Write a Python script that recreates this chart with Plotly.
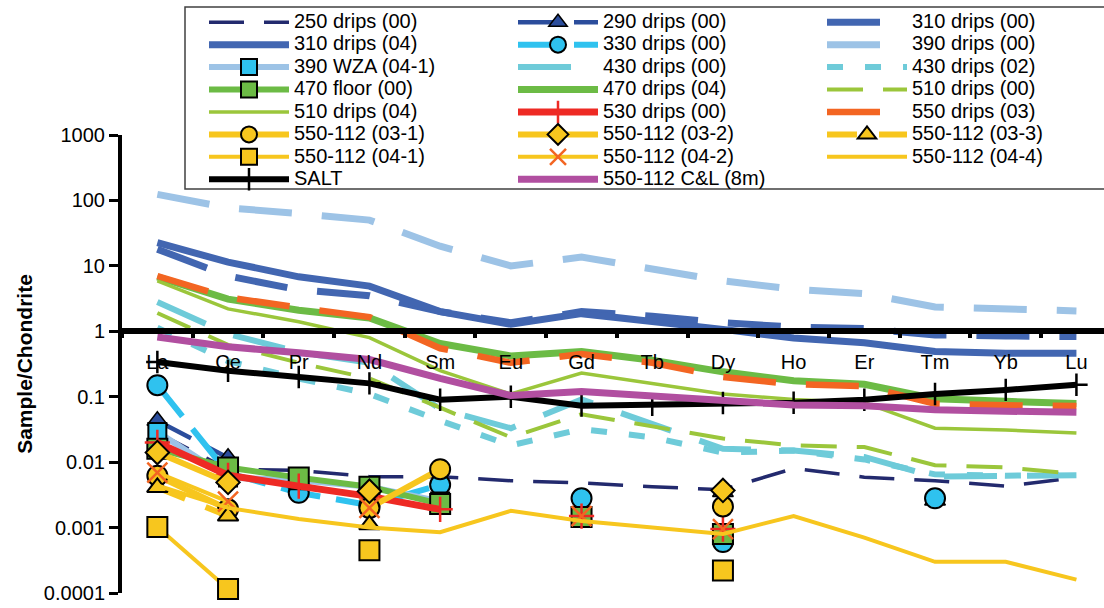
import plotly.graph_objects as go

# ---------------- data ----------------
ree = ["La", "Ce", "Pr", "Nd", "Sm", "Eu", "Gd", "Tb", "Dy", "Ho", "Er", "Tm", "Yb", "Lu"]
N = None

drips250_00 = [0.028, 0.0078, 0.0075, 0.006, 0.006, 0.0052, 0.0048, 0.0042, 0.0038, 0.008, 0.0059, 0.0052, 0.0043, 0.0058]
drips290_00 = [0.043, 0.0117, N, N, N, N, N, N, 0.0035, N, N, 0.0026, N, N]
drips310_00 = [18, 7, 4.3, 3.5, 2.0, 1.35, 2.0, 1.7, 1.35, 1.16, 1.1, 0.88, 0.85, 0.83]
drips310_04 = [22.6, 11.4, 6.8, 4.9, 2.0, 1.28, 1.86, 1.43, 1.07, 0.79, 0.67, 0.49, 0.46, 0.46]
drips330_00 = [0.15, 0.0068, 0.0034, 0.0022, 0.0045, N, 0.0028, N, 0.0006, N, N, 0.0028, N, N]
drips390_00 = [124, 77, 63, 50, 20, 10, 13.6, 8.9, 5.9, 4.4, 3.76, 2.35, 2.2, 2.05]
wza390_041 = [0.029, 0.0058, 0.0053, 0.0042, 0.0025, N, 0.0015, N, 0.0008, N, N, N, N, N]
drips430_00 = [2.8, 0.91, 0.48, 0.33, 0.065, 0.033, 0.091, 0.038, 0.016, 0.015, 0.012, 0.006, 0.006, 0.0063]
drips430_02 = [1.13, 0.35, 0.19, 0.11, 0.043, 0.018, 0.032, 0.024, 0.014, 0.015, 0.011, 0.0065, 0.0062, 0.0065]
floor470_00 = [0.016, 0.0083, 0.0058, 0.0042, 0.0023, N, 0.00145, N, 0.0008, N, N, N, N, N]
drips470_04 = [6.8, 3.1, 2.1, 1.6, 0.65, 0.42, 0.49, 0.36, 0.24, 0.175, 0.155, 0.093, 0.085, 0.079]
drips510_00 = [1.9, 0.62, 0.33, 0.19, 0.068, 0.024, 0.054, 0.035, 0.023, 0.018, 0.017, 0.009, 0.0083, 0.0066]
drips510_04 = [5.9, 2.2, 1.4, 0.8, 0.25, 0.11, 0.23, 0.16, 0.11, 0.091, 0.081, 0.033, 0.031, 0.028]
drips530_00 = [0.02, 0.0063, 0.0043, 0.003, 0.0019, N, 0.0015, N, 0.00095, N, N, N, N, N]
drips550_03 = [7.0, 3.3, 2.3, 1.65, 0.55, 0.33, 0.45, 0.33, 0.2, 0.155, 0.145, 0.078, 0.074, 0.072]
s112_031 = [0.0062, 0.0019, N, 0.002, 0.0078, N, N, N, 0.0021, N, N, N, N, N]
s112_032 = [0.014, 0.0049, N, 0.0036, N, N, N, N, 0.0037, N, N, N, N, N]
s112_033 = [0.0041, 0.0015, N, 0.0011, N, N, N, N, N, N, N, N, N, N]
s112_041 = [0.00102, 0.000115, N, 0.00045, N, N, N, N, 0.00022, N, N, N, N, N]
s112_042 = [0.0069, 0.0025, N, 0.002, N, N, 0.0015, N, 0.00095, N, N, N, N, N]
s112_044 = [0.0044, 0.002, 0.00135, 0.001, 0.00085, 0.0018, 0.00126, 0.001, 0.0008, 0.0015, 0.0007, 0.0003, 0.0003, 0.00016]
salt = [0.34, 0.25, 0.2, 0.16, 0.09, 0.1, 0.073, 0.075, 0.08, 0.081, 0.09, 0.11, 0.127, 0.152]
cl_8m = [0.82, 0.58, 0.47, 0.37, 0.19, 0.104, 0.12, 0.104, 0.09, 0.075, 0.073, 0.063, 0.06, 0.058]

ytick_vals = [0.0001, 0.001, 0.01, 0.1, 1, 10, 100, 1000]
ytick_text = ["0.0001", "0.001", "0.01", "0.1", "1", "10", "100", "1000"]

# ---------------- styles ----------------
NAVY = "#232A6E"; BLUE29 = "#2B4D9C"; BLUE = "#4266B1"; CYAN = "#2FC2EF"
LBLUE = "#9DC3E6"; TEAL = "#6ECBD9"; GREEN = "#6CBB45"; YGREEN = "#9BC63B"
RED = "#EE2A24"; ORANGE = "#F36522"; GOLD = "#F7C61E"; MAGENTA = "#B14FA0"
LONG = "53px,30px"

series = [
    ("250 drips (00)", drips250_00, dict(color=NAVY, width=3.5, dash="35px,20px"), None),
    ("290 drips (00)", drips290_00, dict(color=BLUE29, width=4.5, dash="38px,18px"),
     dict(symbol="triangle-up", size=18, color=BLUE29, line=dict(color="black", width=1.5))),
    ("310 drips (00)", drips310_00, dict(color=BLUE, width=7, dash=LONG), None),
    ("310 drips (04)", drips310_04, dict(color=BLUE, width=7), None),
    ("330 drips (00)", drips330_00, dict(color=CYAN, width=6, dash="40px,16px"),
     dict(symbol="circle", size=20, color=CYAN, line=dict(color="black", width=2))),
    ("390 drips (00)", drips390_00, dict(color=LBLUE, width=7, dash=LONG), None),
    ("390 WZA (04-1)", wza390_041, dict(color=LBLUE, width=6),
     dict(symbol="square", size=18, color=CYAN, line=dict(color="black", width=2))),
    ("430 drips (00)", drips430_00, dict(color=TEAL, width=6, dash=LONG), None),
    ("430 drips (02)", drips430_02, dict(color=TEAL, width=6, dash="16px,22px"), None),
    ("470 floor (00)", floor470_00, dict(color=GREEN, width=6),
     dict(symbol="square", size=20, color=GREEN, line=dict(color="black", width=2))),
    ("470 drips (04)", drips470_04, dict(color=GREEN, width=7), None),
    ("510 drips (00)", drips510_00, dict(color=YGREEN, width=4, dash="36px,20px"), None),
    ("510 drips (04)", drips510_04, dict(color=YGREEN, width=3.5), None),
    ("530 drips (00)", drips530_00, dict(color=RED, width=7),
     dict(symbol="cross-thin", size=18, color=RED, line=dict(color=RED, width=2.5))),
    ("550 drips (03)", drips550_03, dict(color=ORANGE, width=6.5, dash=LONG), None),
    ("550-112 (03-1)", s112_031, dict(color=GOLD, width=6),
     dict(symbol="circle", size=20, color=GOLD, line=dict(color="black", width=2))),
    ("550-112 (03-2)", s112_032, dict(color=GOLD, width=6),
     dict(symbol="diamond", size=18, color=GOLD, line=dict(color="black", width=2))),
    ("550-112 (03-3)", s112_033, dict(color=GOLD, width=6, dash="30px,22px"),
     dict(symbol="triangle-up", size=18, color=GOLD, line=dict(color="black", width=2))),
    ("550-112 (04-1)", s112_041, dict(color=GOLD, width=4),
     dict(symbol="square", size=20, color=GOLD, line=dict(color="black", width=2))),
    ("550-112 (04-2)", s112_042, dict(color=GOLD, width=4),
     dict(symbol="x-thin", size=20, color=ORANGE, line=dict(color=ORANGE, width=2.5))),
    ("550-112 (04-4)", s112_044, dict(color=GOLD, width=4), None),
    ("SALT", salt, dict(color="black", width=6),
     dict(symbol="cross-thin", size=16, color="black", line=dict(color="black", width=2.5))),
    ("550-112 C&L (8m)", cl_8m, dict(color=MAGENTA, width=7), None),
]

FONT = "Liberation Sans, Arial, sans-serif"
W, H = 1104, 608
ML, MT, MB = 122, 135, 15
plot_w = W - ML
plot_h = H - MT - MB


def px_x(p):
    return (p - ML) / plot_w


def px_y(p):
    return 1 + (MT - p) / plot_h


legend_ids = ["legend", "legend2", "legend3"]
fig = go.Figure()
for i, (name, vals, line, marker) in enumerate(series):
    kw = dict(x=ree, y=vals, name=f'<span style="font-size:20px">{name}</span>',
              line=line, connectgaps=False, cliponaxis=False,
              legend=legend_ids[i % 3])
    if marker:
        kw["mode"] = "lines+markers"
        kw["marker"] = marker
    else:
        kw["mode"] = "lines"
    fig.add_trace(go.Scatter(**kw))

col_x = [204, 513, 822]
legend_common = dict(
    orientation="v", xanchor="left", yanchor="top", y=px_y(6),
    itemwidth=80, font=dict(family=FONT, size=14.95, color="black"),
    bgcolor="rgba(0,0,0,0)", borderwidth=0, traceorder="normal",
    tracegroupgap=0,
)

fig.update_layout(
    width=W, height=H,
    margin=dict(l=ML, r=0, t=MT, b=MB, pad=0),
    paper_bgcolor="white", plot_bgcolor="white",
    font=dict(family=FONT, color="black", size=20),
    showlegend=True,
    legend=dict(x=px_x(col_x[0]), **legend_common),
    legend2=dict(x=px_x(col_x[1]), **legend_common),
    legend3=dict(x=px_x(col_x[2]), **legend_common),
    xaxis=dict(
        type="category", categoryorder="array", categoryarray=ree,
        range=[-0.5, 13.39], anchor="free", position=4 / 7,
        showline=True, linecolor="black", linewidth=6,
        ticks="outside", tickson="boundaries", ticklen=4, tickwidth=4, tickcolor="black",
        tickfont=dict(size=20), ticklabelstandoff=11,
        showgrid=False, zeroline=False,
    ),
    yaxis=dict(
        type="log", range=[-4, 3], tickvals=ytick_vals, ticktext=ytick_text,
        showline=True, linecolor="black", linewidth=4,
        ticks="outside", ticklen=9, tickwidth=3, tickcolor="black",
        tickfont=dict(size=20), showgrid=False, zeroline=False,
        title=dict(text="<b>Sample/Chondrite</b>", font=dict(size=21), standoff=6),
    ),
    shapes=[dict(
        type="rect", xref="paper", yref="paper", layer="below",
        x0=px_x(185), x1=px_x(1112), y0=px_y(189), y1=px_y(7),
        line=dict(color="#404040", width=1.5), fillcolor="white",
    )],
)

fig.write_html("out.html")
